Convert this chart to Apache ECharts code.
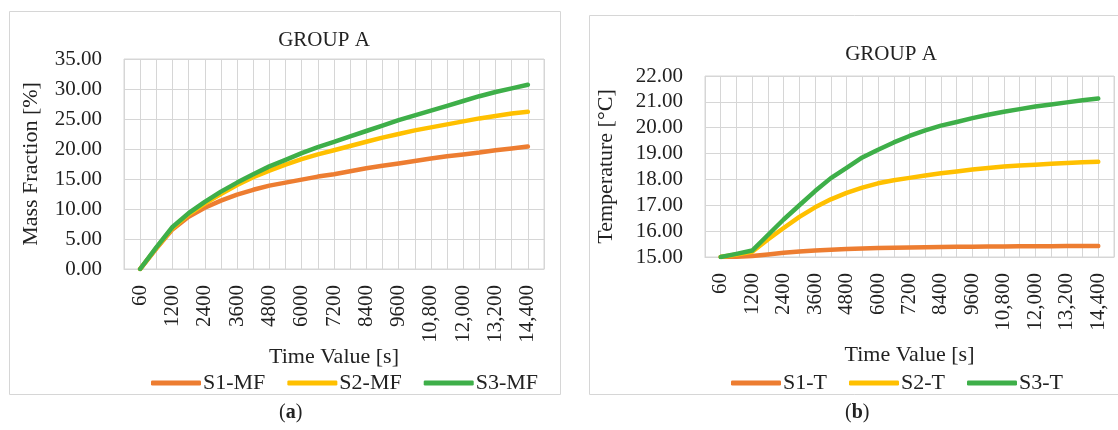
<!DOCTYPE html>
<html>
<head>
<meta charset="utf-8">
<script src="https://cdn.jsdelivr.net/npm/echarts@6/dist/echarts.min.js"></script>
<style>
  html, body { margin: 0; padding: 0; background: #fff; }
  #chart { width: 1118px; height: 430px; }
</style>
</head>
<body>
<div id="chart"></div>
<script>
// Sampling times (s); every second one is labelled on the axis
const timeLabels = ['60', '600', '1200', '1800', '2400', '3000', '3600', '4200', '4800', '5400',
  '6000', '6600', '7200', '7800', '8400', '9000', '9600', '10,200', '10,800', '11,400',
  '12,000', '12,600', '13,200', '13,800', '14,400'];

// (a) Mass fraction [%]
const s1MF = [0, 3.4, 6.6, 8.7, 10.2, 11.4, 12.4, 13.2, 13.9, 14.4, 14.9, 15.4, 15.8, 16.3, 16.8,
  17.2, 17.6, 18.0, 18.4, 18.8, 19.1, 19.4, 19.8, 20.1, 20.4];
const s2MF = [0, 3.5, 6.8, 9.1, 10.9, 12.5, 14.0, 15.3, 16.4, 17.4, 18.3, 19.1, 19.8, 20.5, 21.2,
  21.9, 22.5, 23.1, 23.6, 24.1, 24.6, 25.1, 25.5, 25.9, 26.2];
const s3MF = [0, 3.6, 7.0, 9.3, 11.2, 12.9, 14.4, 15.8, 17.1, 18.2, 19.3, 20.3, 21.2, 22.1, 23.0,
  23.9, 24.8, 25.6, 26.4, 27.2, 28.0, 28.8, 29.5, 30.1, 30.7];

// (b) Temperature [°C]
const s1T = [15.0, 15.01, 15.04, 15.1, 15.16, 15.21, 15.25, 15.28, 15.31, 15.33, 15.35, 15.36, 15.37,
  15.38, 15.39, 15.4, 15.4, 15.41, 15.41, 15.42, 15.42, 15.42, 15.43, 15.43, 15.43];
const s2T = [15.0, 15.1, 15.2, 15.68, 16.12, 16.55, 16.92, 17.23, 17.48, 17.68, 17.85, 17.97, 18.06,
  18.15, 18.24, 18.31, 18.38, 18.44, 18.5, 18.54, 18.57, 18.61, 18.64, 18.66, 18.68];
const s3T = [15.0, 15.12, 15.25, 15.85, 16.45, 17.0, 17.55, 18.05, 18.45, 18.85, 19.15, 19.43, 19.68,
  19.9, 20.08, 20.22, 20.37, 20.5, 20.62, 20.72, 20.82, 20.9, 20.98, 21.06, 21.13];

const COLORS = { s1: '#ED7D31', s2: '#FFC000', s3: '#3EAF49' };
const FONT = 'Liberation Serif';
const TEXT = '#222222';
const GRID_LINE = '#d6d6d6';

const pairs = arr => arr.map((v, i) => [i, v]);

function xAxisFor(gridIndex, nameGap) {
  return {
    type: 'value', gridIndex,
    min: -1, max: timeLabels.length, interval: 1,
    name: 'Time Value [s]', nameLocation: 'middle', nameGap,
    nameTextStyle: { fontFamily: FONT, fontSize: 22, color: TEXT },
    axisLine: { show: true, lineStyle: { color: GRID_LINE, width: 1 } },
    axisTick: { show: false },
    splitLine: { show: true, lineStyle: { color: GRID_LINE, width: 1 } },
    axisLabel: {
      rotate: 90, margin: 16, fontFamily: FONT, fontSize: 21, color: TEXT,
      showMinLabel: true, showMaxLabel: true,
      formatter: v => (v >= 0 && v < timeLabels.length && v % 2 === 0) ? timeLabels[v] : ''
    }
  };
}

function yAxisFor(gridIndex, min, max, interval, name, nameGap) {
  return {
    type: 'value', gridIndex, min, max, interval,
    name, nameLocation: 'middle', nameGap,
    nameTextStyle: { fontFamily: FONT, fontSize: 22, color: TEXT },
    axisLine: { show: false }, axisTick: { show: false },
    splitLine: { show: true, lineStyle: { color: GRID_LINE, width: 1 } },
    axisLabel: { margin: 22, fontFamily: FONT, fontSize: 21, color: TEXT,
      formatter: v => v.toFixed(2) }
  };
}

function lineSeries(name, data, color, idx) {
  return {
    name, type: 'line', data: pairs(data),
    xAxisIndex: idx, yAxisIndex: idx,
    showSymbol: false, symbol: 'none', smooth: false,
    lineStyle: { color, width: 4.5, cap: 'round', join: 'round' },
    itemStyle: { color },
    animation: false
  };
}

function legendFor(names, left) {
  return {
    data: names, left, top: 367, itemWidth: 50, itemHeight: 5, itemGap: 22,
    icon: 'roundRect',
    textStyle: { fontFamily: FONT, fontSize: 22, color: TEXT, padding: [0, 0, 0, -3] }
  };
}

const chart = echarts.init(document.getElementById('chart'), null, { renderer: 'canvas' });
chart.setOption({
  backgroundColor: '#ffffff',
  animation: false,
  title: [
    { text: 'GROUP A', left: 319, top: 25, textAlign: 'center',
      textStyle: { fontFamily: FONT, fontSize: 21, fontWeight: 'normal', color: TEXT } },
    { text: 'GROUP A', left: 886, top: 39, textAlign: 'center',
      textStyle: { fontFamily: FONT, fontSize: 21, fontWeight: 'normal', color: TEXT } }
  ],
  legend: [
    legendFor(['S1-MF', 'S2-MF', 'S3-MF'], 146),
    legendFor(['S1-T', 'S2-T', 'S3-T'], 726)
  ],
  grid: [
    { left: 124, top: 59, width: 420, height: 210, show: true, borderColor: GRID_LINE, borderWidth: 1 },
    { left: 705, top: 76, width: 409, height: 181, show: true, borderColor: GRID_LINE, borderWidth: 1 }
  ],
  xAxis: [xAxisFor(0, 75), xAxisFor(1, 87)],
  yAxis: [
    yAxisFor(0, 0, 35, 5, 'Mass Fraction [%]', 82),
    yAxisFor(1, 15, 22, 1, 'Temperature [°C]', 88)
  ],
  series: [
    lineSeries('S1-MF', s1MF, COLORS.s1, 0),
    lineSeries('S2-MF', s2MF, COLORS.s2, 0),
    lineSeries('S3-MF', s3MF, COLORS.s3, 0),
    lineSeries('S1-T', s1T, COLORS.s1, 1),
    lineSeries('S2-T', s2T, COLORS.s2, 1),
    lineSeries('S3-T', s3T, COLORS.s3, 1)
  ],
  graphic: [
    { type: 'rect', shape: { x: 9.5, y: 11.5, width: 551, height: 383 }, z: -1,
      style: { fill: 'none', stroke: GRID_LINE, lineWidth: 1 } },
    { type: 'rect', shape: { x: 589.5, y: 15.5, width: 540, height: 379 }, z: -1,
      style: { fill: 'none', stroke: GRID_LINE, lineWidth: 1 } },
    { type: 'text', left: 279, top: 403,
      style: { text: '({b|a})', font: '20px "Liberation Serif"', fill: TEXT,
        rich: { b: { fontFamily: FONT, fontSize: 20, fontWeight: 'bold', fill: TEXT } } } },
    { type: 'text', left: 845, top: 403,
      style: { text: '({b|b})', font: '20px "Liberation Serif"', fill: TEXT,
        rich: { b: { fontFamily: FONT, fontSize: 20, fontWeight: 'bold', fill: TEXT } } } }
  ]
});
</script>
</body>
</html>
